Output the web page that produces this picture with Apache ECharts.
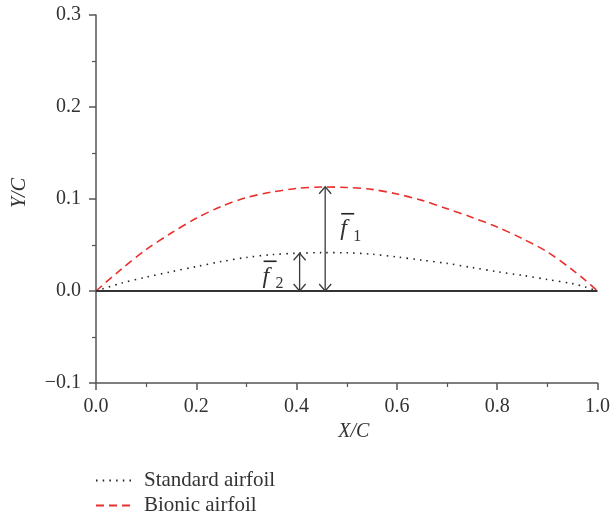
<!DOCTYPE html>
<html>
<head>
<meta charset="utf-8">
<script src="https://cdn.jsdelivr.net/npm/echarts@6/dist/echarts.min.js"></script>
<style>html,body{margin:0;padding:0;background:#fff}#c{width:613px;height:519px}</style>
</head>
<body>
<div id="c"></div>
<script>
var xValues = [0, 0.05, 0.1, 0.15, 0.2, 0.25, 0.3, 0.35, 0.4, 0.45, 0.5, 0.55, 0.6, 0.65, 0.7, 0.75, 0.8, 0.85, 0.9, 0.95, 0.975, 1.0];
var standardY = [0, 0.0085, 0.015, 0.021, 0.0265, 0.032, 0.0365, 0.0395, 0.041, 0.0417, 0.0415, 0.040, 0.037, 0.0335, 0.030, 0.0255, 0.021, 0.017, 0.0125, 0.008, 0.0045, 0];
var bionicY = [0, 0.0235, 0.045, 0.063, 0.079, 0.092, 0.1015, 0.1075, 0.1115, 0.113, 0.1125, 0.1105, 0.1055, 0.0985, 0.0895, 0.080, 0.0695, 0.057, 0.0425, 0.023, 0.012, 0];
var seriesNames = ['Standard airfoil', 'Bionic airfoil'];
// annotation arrows: [x, yFrom, yTo]
var arrowF1 = [0.457, 0, 0.1133];
var arrowF2 = [0.406, 0, 0.041];
var labelF1 = ['f', '1'];
var labelF2 = ['f', '2'];

function pairs(xs, ys) { return xs.map(function (x, i) { return [x, ys[i]]; }); }
var FONT = 'Liberation Serif';
var chart = echarts.init(document.getElementById('c'), null, { renderer: 'canvas' });
var axisColor = '#555';
var option = {
  animation: false,
  grid: { left: 96, right: 15, top: 15, bottom: 136, containLabel: false },
  legend: {
    orient: 'vertical', left: 95, top: 470, itemWidth: 36, itemHeight: 10, itemGap: 4,
    height: 60, padding: 0,
    itemStyle: { opacity: 0 },
    textStyle: { fontFamily: FONT, fontSize: 21, color: '#333', padding: [0, 0, 0, 7] },
    data: seriesNames
  },
  xAxis: {
    type: 'value', min: 0, max: 1, interval: 0.2,
    name: 'X/C', nameLocation: 'middle', nameGap: 36,
    nameTextStyle: { fontFamily: FONT, fontSize: 20, fontStyle: 'italic', color: '#333', padding: [0, 0, 0, 14] },
    axisLine: { show: true, onZero: false, lineStyle: { color: axisColor, width: 1.5 } },
    axisTick: { show: true, length: 7, lineStyle: { color: axisColor, width: 1.5 } },
    minorTick: { show: true, splitNumber: 2, length: 4, lineStyle: { color: axisColor, width: 1.2 } },
    splitLine: { show: false },
    axisLabel: { margin: 14, fontFamily: FONT, fontSize: 20, color: '#333', formatter: function (v) { return v.toFixed(1); } }
  },
  yAxis: {
    type: 'value', min: -0.1, max: 0.3, interval: 0.1,
    name: 'Y/C', nameLocation: 'middle', nameGap: 66,
    nameTextStyle: { fontFamily: FONT, fontSize: 20, fontStyle: 'italic', color: '#333', padding: [0, 0, 0, 12] },
    axisLine: { show: true, onZero: false, lineStyle: { color: axisColor, width: 1.5 } },
    axisTick: { show: true, length: 7, lineStyle: { color: axisColor, width: 1.5 } },
    minorTick: { show: true, splitNumber: 2, length: 4, lineStyle: { color: axisColor, width: 1.2 } },
    splitLine: { show: false },
    axisLabel: { margin: 15, fontFamily: FONT, fontSize: 20, color: '#333', formatter: function (v) { return v.toFixed(1).replace('-', '\u2212'); } }
  },
  series: [
    {
      name: seriesNames[0], type: 'line', smooth: 0.3, showSymbol: false, symbol: 'none',
      data: pairs(xValues, standardY),
      lineStyle: { color: '#222', width: 1.6, type: [1.5, 5.2] },
      itemStyle: { color: '#222' },
      markLine: {
        silent: true, symbol: ['none', 'none'], label: { show: false },
        lineStyle: { color: '#333', width: 1.8, type: 'solid' },
        data: [{ yAxis: 0 }]
      },
      z: 3
    },
    {
      name: seriesNames[1], type: 'line', smooth: 0.3, showSymbol: false, symbol: 'none',
      data: pairs(xValues, bionicY),
      lineStyle: { color: '#e8302c', width: 1.6, type: [8, 5] },
      itemStyle: { color: '#e8302c' },
      z: 4
    }
  ]
};
chart.setOption(option);

function arrowGraphics(a) {
  var p0 = chart.convertToPixel({ gridIndex: 0 }, [a[0], a[1]]);
  var p1 = chart.convertToPixel({ gridIndex: 0 }, [a[0], a[2]]);
  var st = { stroke: '#3a3a3a', lineWidth: 1.3, fill: null };
  return [
    { type: 'line', shape: { x1: p0[0], y1: p0[1], x2: p1[0], y2: p1[1] }, style: st, z: 10 },
    { type: 'polyline', shape: { points: [[p1[0] - 6, p1[1] + 7], [p1[0], p1[1]], [p1[0] + 6, p1[1] + 7]] }, style: st, z: 10 },
    { type: 'polyline', shape: { points: [[p0[0] - 6, p0[1] - 7], [p0[0], p0[1]], [p0[0] + 6, p0[1] - 7]] }, style: st, z: 10 }
  ];
}
function labelGraphics(lbl, x, y) {
  return [
    { type: 'line', shape: { x1: x + 1, y1: y - 3, x2: x + 14, y2: y - 3 }, style: { stroke: '#222', lineWidth: 1.6 }, z: 10 },
    { type: 'text', x: x, y: y, style: { text: lbl[0], fontFamily: FONT, fontStyle: 'italic', fontSize: 24, fill: '#333', textVerticalAlign: 'top' }, z: 10 },
    { type: 'text', x: x + 13, y: y + 12, style: { text: lbl[1], fontFamily: FONT, fontSize: 16, fill: '#333', textVerticalAlign: 'top' }, z: 10 }
  ];
}
var a1 = chart.convertToPixel({ gridIndex: 0 }, [arrowF1[0], arrowF1[2]]);
var a2 = chart.convertToPixel({ gridIndex: 0 }, [arrowF2[0], arrowF2[2]]);
var g = [].concat(
  arrowGraphics(arrowF1), arrowGraphics(arrowF2),
  labelGraphics(labelF1, a1[0] + 15, a1[1] + 30),
  labelGraphics(labelF2, a2[0] - 37, a2[1] + 11)
);
chart.setOption({ graphic: g });
</script>
</body>
</html>
